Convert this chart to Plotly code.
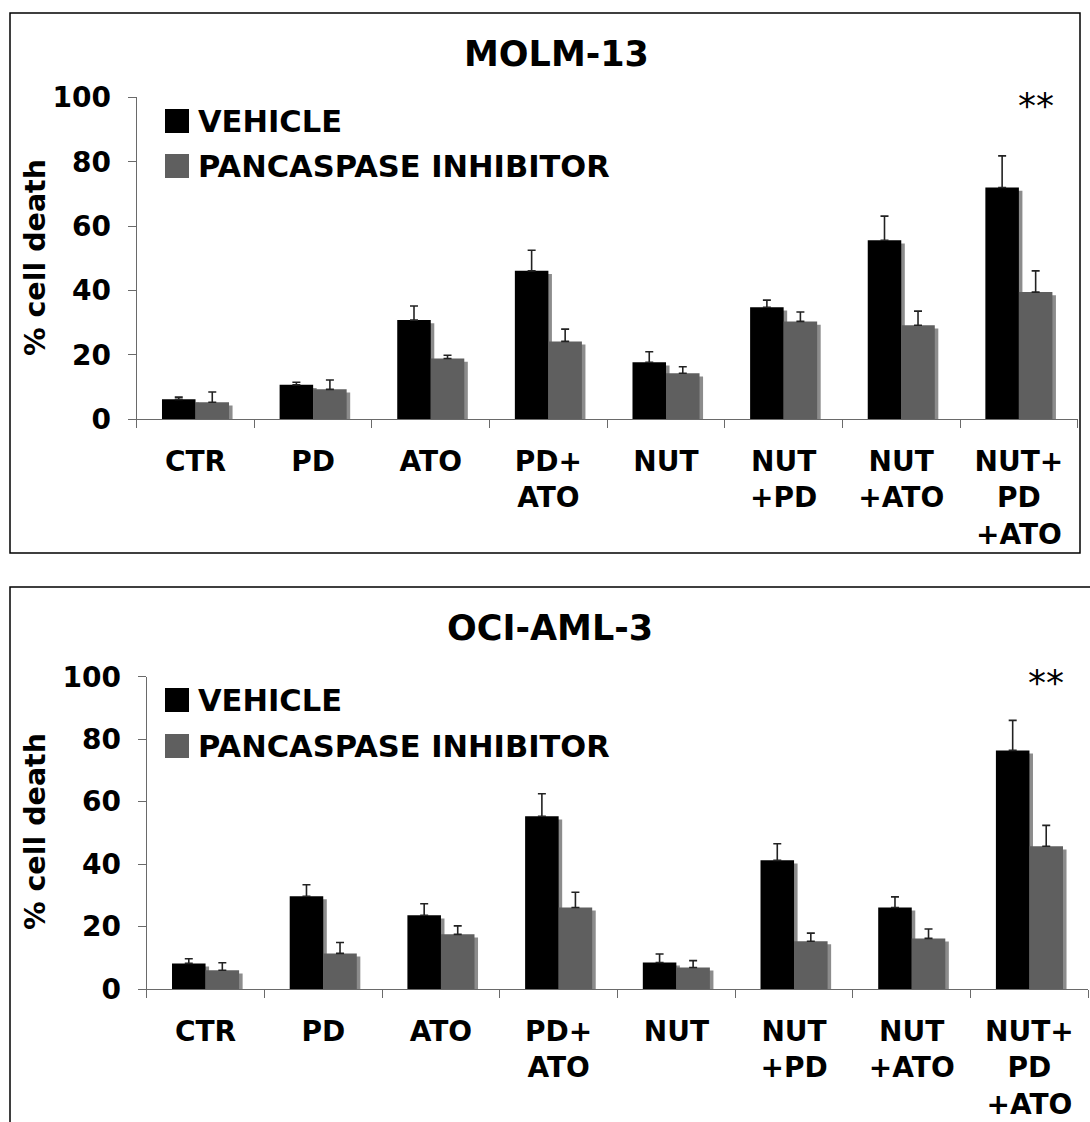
import plotly.graph_objects as go

# ---------------- data ----------------
categories = ["CTR", "PD", "ATO", "PD+<br>ATO", "NUT", "NUT<br>+PD", "NUT<br>+ATO", "NUT+<br>PD<br>+ATO"]
y_ticks = [0, 20, 40, 60, 80, 100]
series_names = ["VEHICLE", "PANCASPASE INHIBITOR"]
panel_titles = ["MOLM-13", "OCI-AML-3"]

molm_vehicle = [6.2, 10.7, 30.8, 46.1, 17.7, 34.8, 55.6, 72.0]
molm_vehicle_err = [0.7, 0.8, 4.4, 6.4, 3.3, 2.2, 7.5, 9.8]
molm_inhib = [5.3, 9.3, 18.9, 24.2, 14.3, 30.4, 29.2, 39.5]
molm_inhib_err = [3.2, 2.9, 1.0, 3.8, 2.0, 2.9, 4.4, 6.6]

oci_vehicle = [8.2, 29.7, 23.6, 55.3, 8.5, 41.2, 26.1, 76.4]
oci_vehicle_err = [1.5, 3.7, 3.7, 7.2, 2.7, 5.3, 3.4, 9.6]
oci_inhib = [6.0, 11.4, 17.5, 26.1, 6.9, 15.3, 16.2, 45.7]
oci_inhib_err = [2.4, 3.5, 2.7, 4.9, 2.2, 2.6, 3.0, 6.7]

significance = "**"

# ---------------- style ----------------
W, H = 1090, 1122
FONT = "DejaVu Sans"
C_VEH = "#000000"
C_INH = "#5f5f5f"
C_SHADOW = "#8c8c8c"
C_AXIS = "#6a6a6a"
BAR_W = 0.285
SH_DX = 0.03
SH_DY = 1.0


def px(x):
    return x / W


def py(y):
    return 1 - y / H


fig = go.Figure()

panels = [
    dict(xa="x", ya="y", veh=molm_vehicle, veh_err=molm_vehicle_err,
         inh=molm_inhib, inh_err=molm_inhib_err),
    dict(xa="x2", ya="y2", veh=oci_vehicle, veh_err=oci_vehicle_err,
         inh=oci_inhib, inh_err=oci_inhib_err),
]

for p in panels:
    # shadows
    for vals, off in ((p["veh"], -BAR_W), (p["inh"], 0.0)):
        fig.add_trace(go.Bar(
            x=categories, y=[v - SH_DY for v in vals], width=BAR_W, offset=off + SH_DX,
            marker=dict(color=C_SHADOW, line=dict(width=0)), showlegend=False,
            hoverinfo="skip", xaxis=p["xa"], yaxis=p["ya"]))
    for vals, errs, off, col, name in ((p["veh"], p["veh_err"], -BAR_W, C_VEH, series_names[0]),
                                        (p["inh"], p["inh_err"], 0.0, C_INH, series_names[1])):
        fig.add_trace(go.Bar(
            x=categories, y=vals, width=BAR_W, offset=off, name=name,
            marker=dict(color=col, line=dict(width=0)), showlegend=False,
            error_y=dict(type="data", array=errs, arrayminus=[0] * len(errs), symmetric=False,
                         color="#222222", thickness=1.6, width=4),
            xaxis=p["xa"], yaxis=p["ya"]))

tickfont = dict(family=FONT, size=28, color="black", weight="bold")
xcommon = dict(type="category", tickson="boundaries", ticks="outside", ticklen=8,
               tickwidth=1.3, tickcolor=C_AXIS, showline=True, linecolor=C_AXIS,
               linewidth=1.3, showgrid=False, zeroline=False, tickfont=tickfont,
               range=[-0.5, 7.5], ticklabelstandoff=17, automargin=False)
ycommon = dict(range=[0, 100], tickvals=y_ticks, ticks="outside", ticklen=8,
               tickwidth=1.3, tickcolor=C_AXIS, showline=True, linecolor=C_AXIS,
               linewidth=1.3, showgrid=False, zeroline=False, tickfont=tickfont,
               ticklabelstandoff=11, automargin=False)

layout = dict(
    width=W, height=H, autosize=False,
    margin=dict(l=0, r=0, t=0, b=0, pad=0),
    paper_bgcolor="white", plot_bgcolor="white",
    barmode="overlay",
    xaxis=dict(xcommon, domain=[px(136.7), px(1077.7)], anchor="y"),
    yaxis=dict(ycommon, domain=[py(419.3), py(97.3)], anchor="x"),
    xaxis2=dict(xcommon, domain=[px(146.7), px(1088.3)], anchor="y2"),
    yaxis2=dict(ycommon, domain=[py(989), py(676.7)], anchor="x2"),
)
fig.update_layout(**layout)

shapes = [
    dict(type="rect", xref="paper", yref="paper", x0=px(10), x1=px(1080), y0=py(553), y1=py(13),
         line=dict(color="black", width=1.5), fillcolor="rgba(0,0,0,0)"),
    dict(type="rect", xref="paper", yref="paper", x0=px(10), x1=px(1100), y0=py(1130), y1=py(587),
         line=dict(color="black", width=1.5), fillcolor="rgba(0,0,0,0)"),
]
annotations = []

panel_layout = [
    dict(title_x=556, title_y=54, leg_y=[121, 166], ytitle_y=258, xa="x", ya="y", star_y=97.5),
    dict(title_x=550, title_y=628, leg_y=[700, 746], ytitle_y=832, xa="x2", ya="y2", star_y=98.0),
]
for i, pl in enumerate(panel_layout):
    annotations.append(dict(text=panel_titles[i], xref="paper", yref="paper",
                            x=px(pl["title_x"]), y=py(pl["title_y"]), xanchor="center", yanchor="middle",
                            showarrow=False, font=dict(family=FONT, size=35, color="black", weight="bold")))
    annotations.append(dict(text="% cell death", xref="paper", yref="paper", textangle=-90,
                            x=px(35), y=py(pl["ytitle_y"]), xanchor="center", yanchor="middle",
                            showarrow=False, font=dict(family=FONT, size=28.5, color="black", weight="bold")))
    for j, (name, col) in enumerate(zip(series_names, (C_VEH, C_INH))):
        yc = pl["leg_y"][j]
        shapes.append(dict(type="rect", xref="paper", yref="paper", x0=px(165), x1=px(189),
                           y0=py(yc + 12), y1=py(yc - 12), fillcolor=col, line=dict(width=0)))
        annotations.append(dict(text=name, xref="paper", yref="paper", x=px(196), y=py(yc),
                                xanchor="left", yanchor="middle", showarrow=False,
                                font=dict(family=FONT, size=30.5, color="black", weight="bold")))
    annotations.append(dict(text=significance, xref=pl["xa"], yref=pl["ya"], x=7 + BAR_W / 2,
                            y=pl["star_y"], xanchor="center", yanchor="middle", showarrow=False,
                            font=dict(family=FONT, size=36, color="black")))

fig.update_layout(shapes=shapes, annotations=annotations)
fig.write_html("out.html")
